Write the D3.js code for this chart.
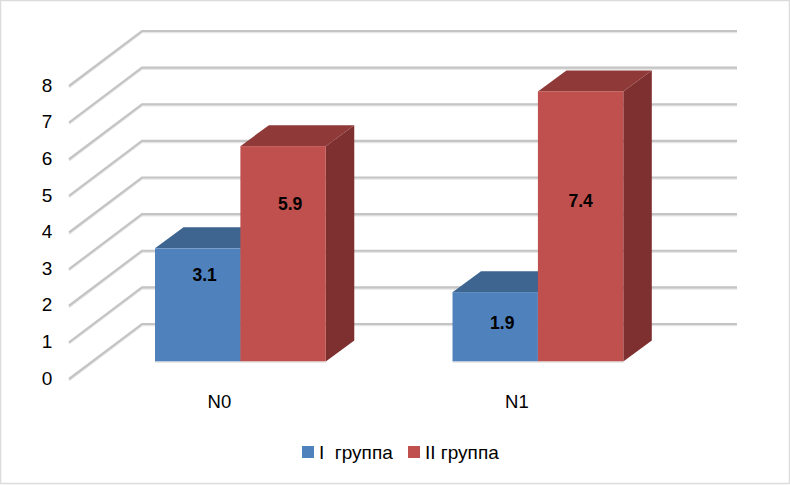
<!DOCTYPE html>
<html><head><meta charset="utf-8">
<script src="https://cdn.jsdelivr.net/npm/d3@7"></script>
<style>html,body{margin:0;padding:0;background:#fff}svg{display:block}text{font-family:"Liberation Sans",Arial,sans-serif;fill:#000}</style>
</head><body><svg id="c" width="790" height="485"></svg>
<script>
const categories = ["N0", "N1"];
const seriesNames = ["I  группа", "II группа"];
const group1 = [3.1, 1.9];
const group2 = [5.9, 7.4];
const yTicks = [0, 1, 2, 3, 4, 5, 6, 7, 8];
const frontColors = ["#4f81bd", "#c0504d"];
const topColors = ["#3e6490", "#8f3a38"];
const sideColors = ["#35557b", "#7d302f"];

// manual label placement relative to each bar's front-face centre
const labelShift = [[[7, -30], [7, -50]], [[7, -4], [0, -26]]];

const svg = d3.select("#c");
svg.append("rect").attr("x", .5).attr("y", .5).attr("width", 789).attr("height", 483)
  .attr("fill", "#fff").attr("stroke", "#dcdcdc").attr("stroke-width", 1.5);

const depthX = 28.5, depthY = -21;
const y = d3.scaleLinear().domain([0, 8]).range([361.5, 69.5]);
const yBack = d3.scaleLinear().domain([0, 8]).range([324, 31]);
const yFront = d3.scaleLinear().domain([0, 8]).range([379, 86]);
const x0 = d3.scaleBand().domain(categories).range([155, 623.3]).paddingInner(0.426).paddingOuter(0);
const x1 = d3.scaleBand().domain([0, 1]).range([0, x0.bandwidth()]);

const grid = svg.append("g");
const line = d3.line();
[[1.5, "#e6e6e6", 1.6], [0, "#c4c4c4", 2.2]].forEach(([dy, col, w]) => {
  grid.selectAll(null).data(yTicks).join("path")
    .attr("fill", "none").attr("stroke", col).attr("stroke-width", w)
    .attr("d", t => line([[69, yFront(t) + dy], [142, yBack(t) + dy], [737, yBack(t) + dy]]));
});

svg.append("g").selectAll("text").data(yTicks).join("text")
  .attr("x", 47).attr("y", t => yFront(t) - 1).attr("dy", "0.35em")
  .attr("text-anchor", "middle").attr("font-size", 19).text(t => t);

const bars = [];
categories.forEach((c, i) => {
  [group1, group2].forEach((s, k) => bars.push({c, i, k, v: s[i]}));
});
bars.sort((a, b) => a.i - b.i || a.k - b.k);

const g = svg.append("g");
bars.forEach(b => {
  const l = x0(b.c) + x1(b.k), r = l + x1.bandwidth(), t = y(b.v), bt = y(0);
  const poly = (pts, col) => g.append("polygon").attr("points", pts.map(p => p.join(",")).join(" ")).attr("fill", col);
  poly([[r, t], [r + depthX, t + depthY], [r + depthX, bt + depthY], [r, bt]], sideColors[b.k]);
  poly([[l, t], [l + depthX, t + depthY], [r + depthX, t + depthY], [r, t]], topColors[b.k]);
  g.append("rect").attr("x", l).attr("y", t).attr("width", r - l).attr("height", bt - t).attr("fill", frontColors[b.k]);
});
categories.forEach(c => {
  g.append("line").attr("x1", x0(c)).attr("x2", x0(c) + x0.bandwidth()).attr("y1", y(0) + .5).attr("y2", y(0) + .5).attr("stroke", "#d4d4d4");
});

svg.append("g").selectAll("text").data(bars).join("text")
  .attr("x", b => x0(b.c) + x1(b.k) + x1.bandwidth() / 2 + labelShift[b.i][b.k][0])
  .attr("y", b => (y(b.v) + y(0)) / 2 + labelShift[b.i][b.k][1])
  .attr("dy", "0.35em").attr("text-anchor", "middle")
  .attr("font-size", 17.5).attr("font-weight", "bold").text(b => b.v.toFixed(1));

svg.append("g").selectAll("text").data(categories).join("text")
  .attr("x", c => x0(c) + x0.bandwidth() / 2 - 21).attr("y", 402)
  .attr("dy", "0.35em").attr("text-anchor", "middle").attr("font-size", 18.5).text(c => c);

const legendX = [302, 408];
const lg = svg.append("g").selectAll("g").data(seriesNames).join("g")
  .attr("transform", (d, i) => `translate(${legendX[i]},446)`);
lg.append("rect").attr("width", 12).attr("height", 12).attr("fill", (d, i) => frontColors[i]);
lg.append("text").attr("x", 17).attr("y", 6).attr("dy", "0.35em").attr("font-size", 19)
  .style("white-space", "pre").text(d => d);
</script></body></html>
